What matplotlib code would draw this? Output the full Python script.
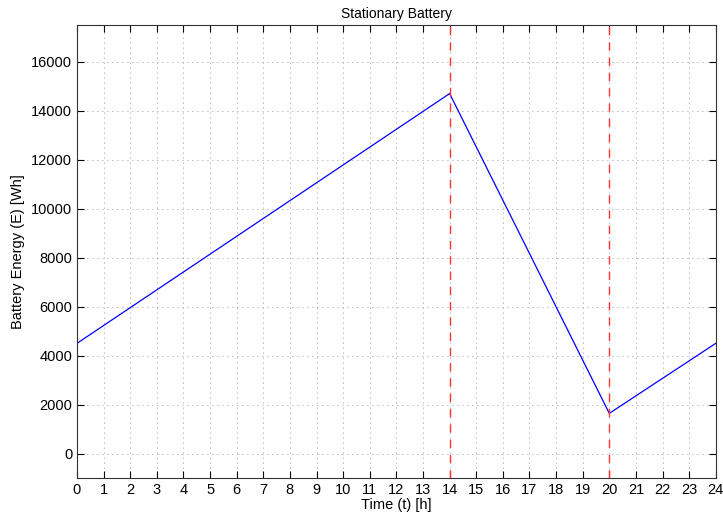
import matplotlib
matplotlib.use("Agg")
import matplotlib.pyplot as plt

# battery energy profile (hour, Wh)
hours = [0, 14, 20, 24]
energy = [4500, 14700, 1640, 4500]
# event markers
event_hours = [14, 20]

plt.rcParams["font.family"] = ["Liberation Sans", "DejaVu Sans"]

fig = plt.figure(figsize=(7.23, 5.18), dpi=100)
ax = fig.add_axes([0.1065, 0.0772, 0.8835, 0.8745])

ax.plot(hours, energy, color="#0000ff", linewidth=0.9)
for h in event_hours:
    ax.axvline(h, color="#ff3333", linestyle=(0, (6, 5)), linewidth=1.0)

ax.set_xlim(0, 24)
ax.set_ylim(-1000, 17500)
ax.set_xticks(range(0, 25))
ax.set_yticks(range(0, 16001, 2000))
ax.grid(True, linestyle=(0, (1, 5)), color="#777777", linewidth=0.6)
ax.tick_params(direction="in", top=True, right=True, labelsize=10.5, length=5)
for s in ax.spines.values():
    s.set_color("#333333")

ax.set_title("Stationary Battery", fontsize=10, pad=5)
ax.set_xlabel("Time (t) [h]", fontsize=10.5, labelpad=1)
ax.set_ylabel("Battery Energy (E) [Wh]", fontsize=10.5, labelpad=4)

fig.savefig("out.png", dpi=100)
